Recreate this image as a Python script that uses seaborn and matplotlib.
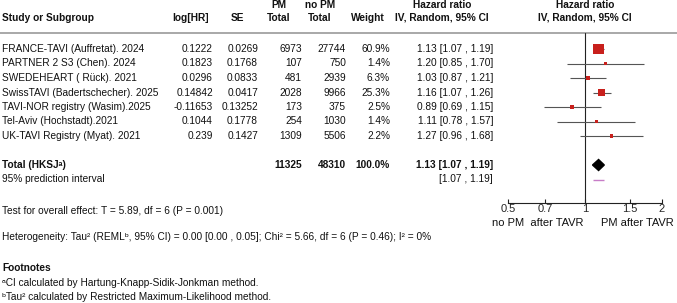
import numpy as np
import pandas as pd
import matplotlib
matplotlib.use("Agg")
import matplotlib.pyplot as plt
import seaborn as sns

# ---------------- DATA ----------------
studies = [
    "FRANCE-TAVI (Auffretat). 2024",
    "PARTNER 2 S3 (Chen). 2024",
    "SWEDEHEART ( Rück). 2021",
    "SwissTAVI (Badertschecher). 2025",
    "TAVI-NOR registry (Wasim).2025",
    "Tel-Aviv (Hochstadt).2021",
    "UK-TAVI Registry (Myat). 2021",
]
log_hr = ["0.1222", "0.1823", "0.0296", "0.14842", "-0.11653", "0.1044", "0.239"]
se = ["0.0269", "0.1768", "0.0833", "0.0417", "0.13252", "0.1778", "0.1427"]
pm_total = [6973, 107, 481, 2028, 173, 254, 1309]
nopm_total = [27744, 750, 2939, 9966, 375, 1030, 5506]
weight = [60.9, 1.4, 6.3, 25.3, 2.5, 1.4, 2.2]
hr = [1.13, 1.20, 1.03, 1.16, 0.89, 1.11, 1.27]
hr_lo = [1.07, 0.85, 0.87, 1.07, 0.69, 0.78, 0.96]
hr_hi = [1.19, 1.70, 1.21, 1.26, 1.15, 1.57, 1.68]

total_pm = 11325
total_nopm = 48310
total_hr = 1.13
total_lo = 1.07
total_hi = 1.19
pred_lo = 1.07
pred_hi = 1.19

x_ticks = [0.5, 0.7, 1, 1.5, 2]
# --------------------------------------

W, H = 677, 303
RED = "#c8201c"
FS = 7.3

sns.set_theme(style="white")
plt.rcParams["font.family"] = ["Liberation Sans", "DejaVu Sans"]
plt.rcParams["font.size"] = FS

fig = plt.figure(figsize=(W / 100, H / 100), dpi=100)

# table layer in pixel coordinates
tab = fig.add_axes([0, 0, 1, 1])
tab.set_xlim(0, W)
tab.set_ylim(H, 0)
tab.axis("off")

def row_y(i):
    return 49 + 14.5 * i

def txt(x, y, s, ha="left", bold=False, size=FS):
    tab.text(x, y, s, ha=ha, va="center", fontsize=size,
             fontweight="bold" if bold else "normal", color="#111111")

# headers
txt(2, 18, "Study or Subgroup", bold=True)
txt(191, 18, "log[HR]", ha="center", bold=True)
txt(237, 18, "SE", ha="center", bold=True)
txt(279, 5, "PM", ha="center", bold=True)
txt(279, 18, "Total", ha="center", bold=True)
txt(320, 5, "no PM", ha="center", bold=True)
txt(320, 18, "Total", ha="center", bold=True)
txt(368, 18, "Weight", ha="center", bold=True)
txt(442, 5, "Hazard ratio", ha="center", bold=True)
txt(442, 18, "IV, Random, 95% CI", ha="center", bold=True)
txt(585, 5, "Hazard ratio", ha="center", bold=True)
txt(585, 18, "IV, Random, 95% CI", ha="center", bold=True)
tab.axhline(33, color="#999999", lw=1.2)

for i, name in enumerate(studies):
    y = row_y(i)
    txt(2, y, name)
    txt(213, y, log_hr[i], ha="right")
    txt(258, y, se[i], ha="right")
    txt(302, y, str(pm_total[i]), ha="right")
    txt(346, y, str(nopm_total[i]), ha="right")
    txt(390, y, f"{weight[i]:.1f}%", ha="right")
    txt(493, y, f"{hr[i]:.2f} [{hr_lo[i]:.2f} , {hr_hi[i]:.2f}]", ha="right")

y_tot = row_y(8)
txt(2, y_tot, "Total (HKSJᵃ)", bold=True)
txt(302, y_tot, str(total_pm), ha="right", bold=True)
txt(346, y_tot, str(total_nopm), ha="right", bold=True)
txt(390, y_tot, f"{sum(weight):.1f}%", ha="right", bold=True)
txt(493, y_tot, f"{total_hr:.2f} [{total_lo:.2f} , {total_hi:.2f}]", ha="right", bold=True)
y_pred = row_y(9)
txt(2, y_pred, "95% prediction interval")
txt(493, y_pred, f"[{pred_lo:.2f} , {pred_hi:.2f}]", ha="right")

txt(2, 211, "Test for overall effect: T = 5.89, df = 6 (P = 0.001)")
txt(2, 237, "Heterogeneity: Tau² (REMLᵇ, 95% CI) = 0.00 [0.00 , 0.05]; "
            "Chi² = 5.66, df = 6 (P = 0.46); I² = 0%")
txt(2, 268, "Footnotes", bold=True)
txt(2, 283, "ᵃCI calculated by Hartung-Knapp-Sidik-Jonkman method.")
txt(2, 297, "ᵇTau² calculated by Restricted Maximum-Likelihood method.")

txt(538, 223, "no PM  after TAVR", ha="center", size=FS + 0.7)
txt(637, 223, "PM after TAVR", ha="center", size=FS + 0.7)

# forest axes
x0, x1 = 508, 662
y_top, y_bot = 33, 203
ax = fig.add_axes([x0 / W, 1 - y_bot / H, (x1 - x0) / W, (y_bot - y_top) / H])
ax.set_xscale("log")
ax.set_xlim(0.5, 2)
ax.set_ylim((y_bot - 49) / 14.5, (y_top - 49) / 14.5)
ax.patch.set_alpha(0)

rows = np.arange(len(studies))
df = pd.DataFrame({"hr": hr, "lo": hr_lo, "hi": hr_hi, "row": rows, "w": weight})

ax.axvline(1, color="#222222", lw=0.8, zorder=1)
ax.hlines(df["row"], df["lo"], df["hi"], color="#555555", lw=0.8, zorder=2)
sns.scatterplot(data=df, x="hr", y="row", size="w", sizes=(5, 55),
                marker="s", color=RED, edgecolor=RED, linewidth=0,
                legend=False, ax=ax, zorder=3)

# total diamond
dh = 0.38
ax.fill([total_lo, total_hr, total_hi, total_hr],
        [8, 8 - dh, 8, 8 + dh], color="black", zorder=3)
# prediction interval
ax.hlines(9, pred_lo, pred_hi, color="#c77dc7", lw=1.0)

for s in ["top", "right", "left"]:
    ax.spines[s].set_visible(False)
ax.spines["bottom"].set_color("#222222")
ax.spines["bottom"].set_linewidth(0.8)
ax.set_yticks([])
ax.set_xticks(x_ticks)
ax.set_xticklabels([f"{t:g}" for t in x_ticks])
ax.xaxis.set_minor_locator(matplotlib.ticker.NullLocator())
ax.tick_params(axis="x", direction="in", length=3, width=0.8, color="#222222",
               labelsize=FS + 0.7, pad=1, bottom=True)
ax.set_xlabel("")
ax.set_ylabel("")

fig.savefig("out.png", dpi=100)
